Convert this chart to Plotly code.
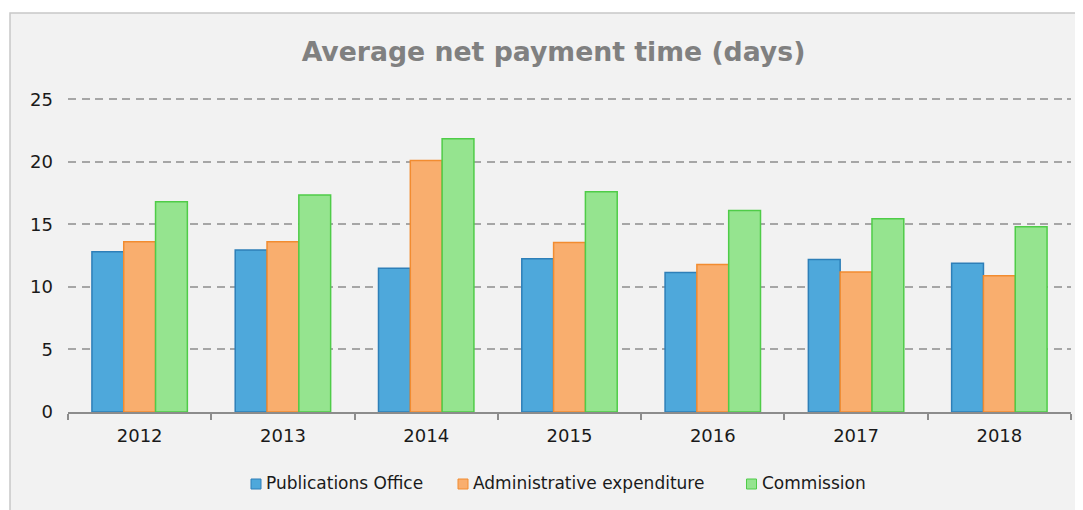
import plotly.graph_objects as go

years = ["2012", "2013", "2014", "2015", "2016", "2017", "2018"]
publications_office = [12.8, 12.95, 11.5, 12.25, 11.15, 12.2, 11.9]
administrative_expenditure = [13.6, 13.6, 20.1, 13.55, 11.8, 11.2, 10.9]
commission = [16.8, 17.35, 21.85, 17.6, 16.1, 15.45, 14.8]
y_ticks = [0, 5, 10, 15, 20, 25]

series = [
    ("Publications Office", publications_office, "#4EA8DB", "#2E7FB8"),
    ("Administrative expenditure", administrative_expenditure, "#F9AE6E", "#F28C30"),
    ("Commission", commission, "#95E48F", "#4FCC48"),
]

fig = go.Figure()
for name, vals, fill, line in series:
    fig.add_trace(go.Bar(x=years, y=vals, name=name, showlegend=False,
                         marker=dict(color=fill, line=dict(color=line, width=1.5))))

# figure coordinates (page has an 8px body offset)
W, H = 1083, 510
L, R, T, B = 60, 20, 85, 106
pw = W - L - R
ph = H - T - B

def px(x):
    return (x - L) / pw

def py(y):
    return (H - B - y) / ph

fig.add_shape(type="rect", xref="paper", yref="paper",
              x0=px(2), x1=px(1100), y0=py(530), y1=py(5),
              fillcolor="#F2F2F2", line=dict(color="#C8C8C8", width=1.5), layer="below")

# custom legend (tight marker/text spacing)
leg_y = 476
leg_items = [(243, series[0]), (450, series[1]), (738.5, series[2])]
for x0, (name, _, fill, line) in leg_items:
    fig.add_shape(type="rect", xref="paper", yref="paper",
                  x0=px(x0), x1=px(x0 + 10), y0=py(leg_y + 5), y1=py(leg_y - 5),
                  fillcolor=fill, line=dict(color=line, width=1))
    fig.add_annotation(text=name, xref="paper", yref="paper", x=px(x0 + 13), y=py(leg_y - 0.5),
                       xanchor="left", yanchor="middle", showarrow=False,
                       font=dict(family="DejaVu Sans", size=17, color="#1a1a1a"))

fig.update_layout(
    width=W, height=H,
    margin=dict(l=L, r=R, t=T, b=B),
    paper_bgcolor="white",
    plot_bgcolor="rgba(0,0,0,0)",
    font=dict(family="DejaVu Sans", size=18, color="#1a1a1a"),
    title=dict(text="<b>Average net payment time (days)</b>", x=(553.5 - 8) / W, xanchor="center",
               xref="container",
               y=1 - 44 / H, yanchor="middle", yref="container",
               font=dict(family="DejaVu Sans", size=26.7, color="#808080")),
    barmode="group", bargap=0.334, bargroupgap=0,
    showlegend=False,
    xaxis=dict(showline=True, linecolor="#8C8C8C", linewidth=2,
               ticks="outside", tickson="boundaries", ticklen=6, tickcolor="#8C8C8C",
               tickwidth=2, tickfont=dict(size=18), showgrid=False, ticklabelstandoff=6),
    yaxis=dict(range=[0, 25.5], tickvals=y_ticks, showline=False,
               showgrid=True, gridcolor="#A6A6A6", gridwidth=2, griddash="8px,5.5px",
               zeroline=False, ticks="", ticklabelstandoff=14, tickfont=dict(size=18)),
)

fig.write_html("out.html")
